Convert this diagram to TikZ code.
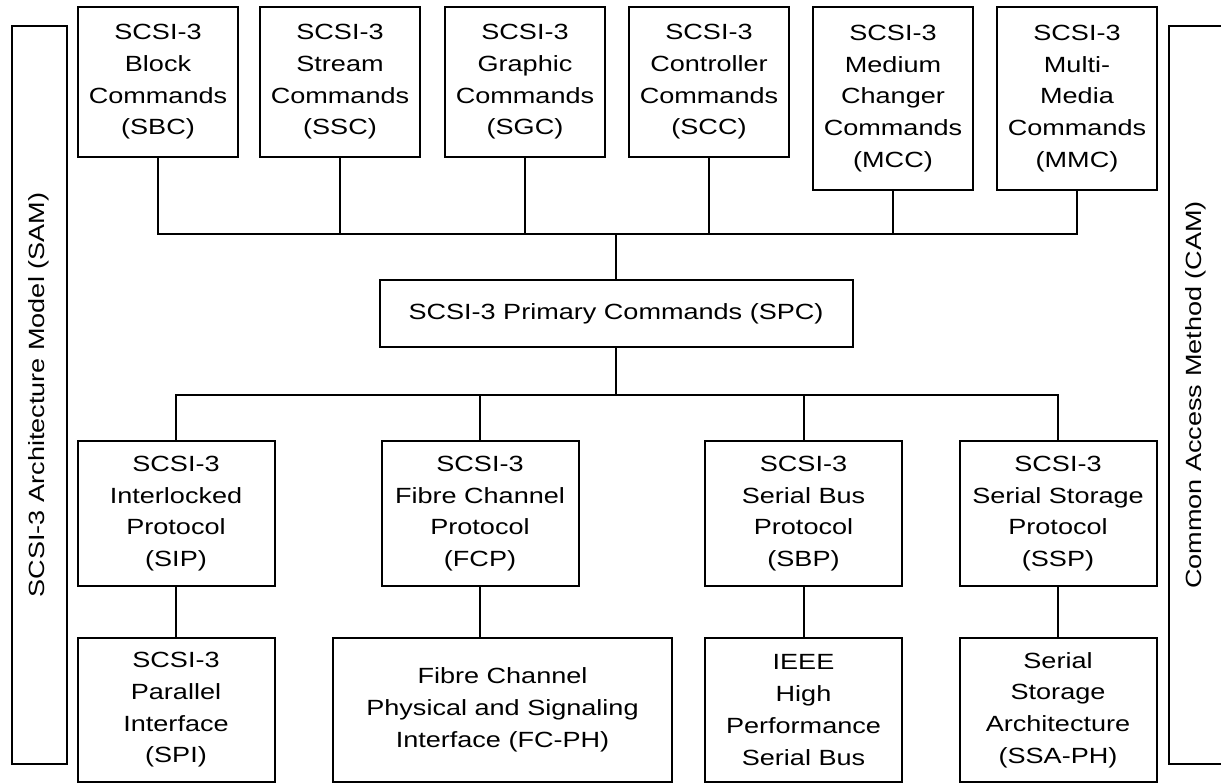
\documentclass[tikz,border=0pt]{standalone}
\usepackage{fontspec}
\setmainfont{Liberation Sans}[FakeStretch=1.23]
\usepackage{tikz}
\usetikzlibrary{positioning, calc}

\begin{document}
\begin{tikzpicture}[x=1pt, y=-1pt,
	box/.style={draw, line width=2pt, align=center, inner sep=0pt, font=\fontsize{22}{31.7}\selectfont},
	cmdbox/.style={box, minimum width=160pt, minimum height=150pt},
	tallbox/.style={box, minimum width=160pt, minimum height=183pt},
	protobox/.style={box, minimum width=197pt, minimum height=145pt},
	physbox/.style={box, minimum width=197pt, minimum height=144pt},
	sidebox/.style={box, rotate=90, minimum width=738pt, minimum height=55pt},
	wire/.style={line width=2pt, line cap=rect}]
	\useasboundingbox (0,0) rectangle (1221,783);

	% side models
	\node[sidebox] (sam) at (39,395) {SCSI-3 Architecture Model (SAM)};
	\node[sidebox] (cam) at (1196,395) {Common Access Method (CAM)};

	% command sets
	\node[cmdbox] (sbc) at (158,82) {SCSI-3\\Block\\Commands\\(SBC)};
	\node[cmdbox] (ssc) at (340,82) {SCSI-3\\Stream\\Commands\\(SSC)};
	\node[cmdbox] (sgc) at (525,82) {SCSI-3\\Graphic\\Commands\\(SGC)};
	\node[cmdbox] (scc) at (709,82) {SCSI-3\\Controller\\Commands\\(SCC)};
	\node[tallbox] (mcc) at (893,98.5) {SCSI-3\\Medium\\Changer\\Commands\\(MCC)};
	\node[tallbox] (mmc) at (1077,98.5) {SCSI-3\\Multi-\\Media\\Commands\\(MMC)};

	\node[box, minimum width=473pt, minimum height=67pt] (spc) at (616,313.5) {SCSI-3 Primary Commands (SPC)};

	% protocols
	\node[protobox] (sip) at (176,513.5) {SCSI-3\\Interlocked\\Protocol\\(SIP)};
	\node[protobox] (fcp) at (480,513.5) {SCSI-3\\Fibre Channel\\Protocol\\(FCP)};
	\node[protobox] (sbp) at (803.5,513.5) {SCSI-3\\Serial Bus\\Protocol\\(SBP)};
	\node[protobox] (ssp) at (1058,513.5) {SCSI-3\\Serial Storage\\Protocol\\(SSP)};

	% interconnects
	\node[physbox] (spi) at (176,710) {SCSI-3\\Parallel\\Interface\\(SPI)};
	\node[physbox, minimum width=339pt] (fcph) at (502.5,710) {Fibre Channel\\Physical and Signaling\\Interface (FC-PH)};
	\node[physbox] (ieee) at (803.5,710) {IEEE\\High\\Performance\\Serial Bus};
	\node[physbox] (ssa) at (1058,710) {Serial\\Storage\\Architecture\\(SSA-PH)};

	\coordinate (topbus) at (0,234);
	\coordinate (lowbus) at (0,395);

	\foreach \n in {sbc,ssc,sgc,scc,mcc,mmc}
		\draw[wire] (\n.south) -- (\n.south |- topbus);
	\draw[wire] (sbc.south |- topbus) -- (mmc.south |- topbus);
	\draw[wire] (spc.north) -- (spc.north |- topbus);

	\draw[wire] (spc.south) -- (spc.south |- lowbus);
	\draw[wire] (sip.north |- lowbus) -- (ssp.north |- lowbus);
	\foreach \n in {sip,fcp,sbp,ssp}
		\draw[wire] (\n.north) -- (\n.north |- lowbus);

	\foreach \a/\b in {sip/spi,fcp/fcph,sbp/ieee,ssp/ssa}
		\draw[wire] (\a.south) -- (\a.south |- \b.north);
\end{tikzpicture}
\end{document}
